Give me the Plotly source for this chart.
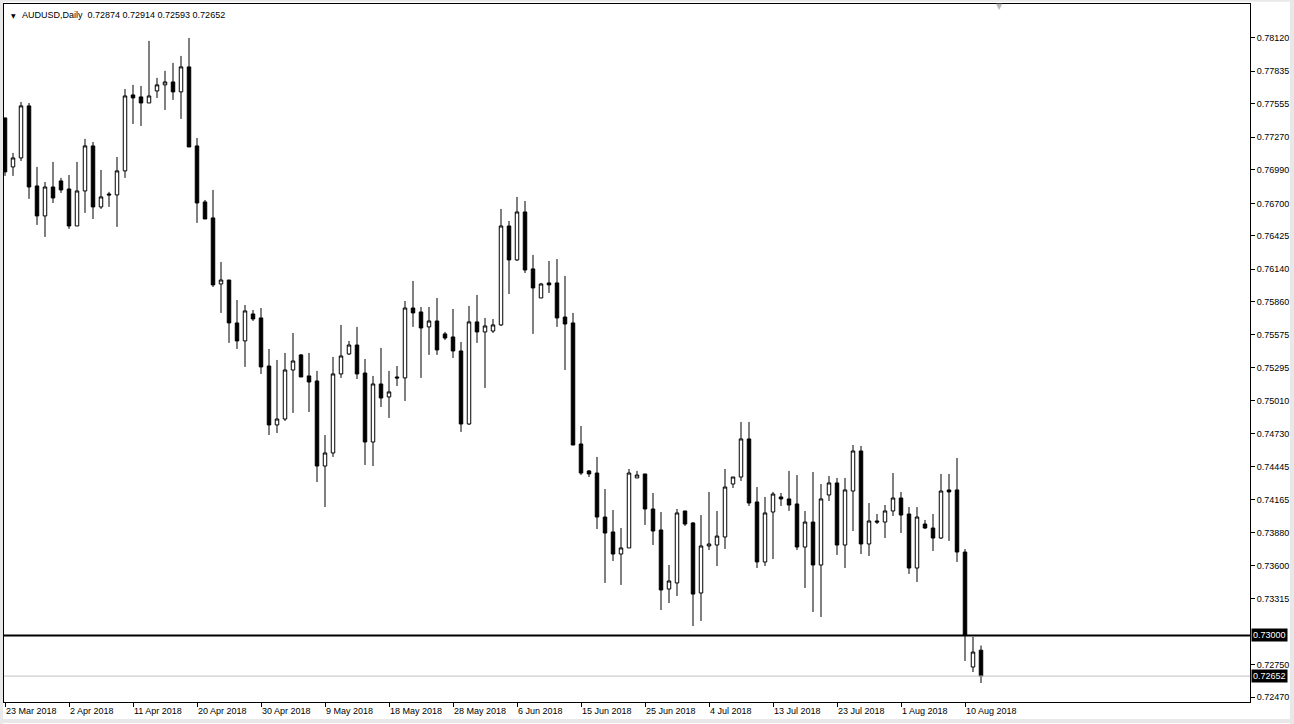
import plotly.graph_objects as go

# AUDUSD daily bars, oldest first
opens = [0.77435, 0.77015, 0.77092, 0.77538, 0.76852, 0.76595, 0.76843, 0.76895, 0.76826, 0.76509,
         0.76809, 0.77195, 0.76672, 0.76783, 0.76775, 0.76981, 0.77632, 0.77615, 0.77563, 0.77666,
         0.77718, 0.77743, 0.77658, 0.77872, 0.77195, 0.76715, 0.76578, 0.76012, 0.76046, 0.75678,
         0.75524, 0.75755, 0.75721, 0.75309, 0.74804, 0.74855, 0.75275, 0.75404, 0.75224, 0.75181,
         0.74452, 0.74564, 0.75241, 0.75412, 0.75489, 0.75249, 0.74658, 0.75155, 0.75044, 0.75215,
         0.75207, 0.75806, 0.75772, 0.75644, 0.75695, 0.75584, 0.75558, 0.75438, 0.74812, 0.75687,
         0.75601, 0.75609, 0.75661, 0.76509, 0.76218, 0.76629, 0.76141, 0.75892, 0.76021, 0.76021,
         0.75729, 0.75678, 0.74641, 0.74410, 0.74392, 0.74015, 0.73887, 0.73698, 0.73750, 0.74350,
         0.74384, 0.74084, 0.73904, 0.73398, 0.73450, 0.74067, 0.73964, 0.73364, 0.73767, 0.73775,
         0.73844, 0.74298, 0.74358, 0.74684, 0.74144, 0.73630, 0.74058, 0.74187, 0.74170, 0.74127,
         0.73758, 0.73972, 0.73604, 0.74204, 0.74307, 0.73775, 0.74238, 0.74581, 0.73784, 0.73981,
         0.73972, 0.74067, 0.74178, 0.74041, 0.73578, 0.73955, 0.73921, 0.73835, 0.74247, 0.74247,
         0.73715, 0.72730, 0.72874]
highs = [0.77435, 0.77135, 0.77572, 0.77563, 0.77015, 0.76886, 0.77058, 0.76921, 0.76946, 0.77058,
         0.77255, 0.77229, 0.76989, 0.76801, 0.77100, 0.77683, 0.77718, 0.77709, 0.78095, 0.77778,
         0.77838, 0.77906, 0.77966, 0.78120, 0.77263, 0.76732, 0.76818, 0.76201, 0.76046, 0.75875,
         0.75832, 0.75789, 0.75806, 0.75455, 0.75361, 0.75421, 0.75592, 0.75412, 0.75421, 0.75267,
         0.74718, 0.75387, 0.75661, 0.75524, 0.75644, 0.75369, 0.75224, 0.75464, 0.75267, 0.75309,
         0.75866, 0.76038, 0.75815, 0.75815, 0.75892, 0.75601, 0.75798, 0.75515, 0.75824, 0.75918,
         0.75721, 0.75712, 0.76655, 0.76552, 0.76758, 0.76723, 0.76261, 0.76021, 0.76209, 0.76226,
         0.76081, 0.75764, 0.74795, 0.74418, 0.74530, 0.74255, 0.74075, 0.73921, 0.74427, 0.74410,
         0.74384, 0.74221, 0.74058, 0.73604, 0.74084, 0.74067, 0.73972, 0.74032, 0.74230, 0.74067,
         0.74427, 0.74358, 0.74830, 0.74830, 0.74272, 0.74187, 0.74230, 0.74221, 0.74410, 0.74375,
         0.74067, 0.74401, 0.74298, 0.74367, 0.74350, 0.74350, 0.74632, 0.74624, 0.74135, 0.74041,
         0.74118, 0.74392, 0.74230, 0.74101, 0.74101, 0.73990, 0.74041, 0.74384, 0.74384, 0.74521,
         0.73741, 0.72987, 0.72914]
lows = [0.76938, 0.76938, 0.77066, 0.76741, 0.76518, 0.76415, 0.76706, 0.76792, 0.76484, 0.76509,
        0.76621, 0.76569, 0.76655, 0.76672, 0.76501, 0.76921, 0.77383, 0.77366, 0.77563, 0.77606,
        0.77503, 0.77589, 0.77426, 0.77186, 0.76535, 0.76569, 0.75986, 0.75764, 0.75507, 0.75455,
        0.75301, 0.75695, 0.75241, 0.74718, 0.74735, 0.74838, 0.74907, 0.75215, 0.74915, 0.74315,
        0.74101, 0.74530, 0.75207, 0.75404, 0.75198, 0.74461, 0.74452, 0.74958, 0.74864, 0.75138,
        0.75009, 0.75644, 0.75207, 0.75404, 0.75404, 0.75532, 0.75378, 0.74744, 0.74804, 0.75507,
        0.75121, 0.75592, 0.75652, 0.75926, 0.76209, 0.76106, 0.75584, 0.75892, 0.75935, 0.75644,
        0.75275, 0.74632, 0.74375, 0.74358, 0.73912, 0.73450, 0.73638, 0.73433, 0.73750, 0.74350,
        0.73947, 0.73775, 0.73218, 0.73278, 0.73338, 0.73938, 0.73081, 0.73124, 0.73732, 0.73595,
        0.73741, 0.74264, 0.74324, 0.74110, 0.73578, 0.73595, 0.73655, 0.74110, 0.74067, 0.73732,
        0.73407, 0.73201, 0.73158, 0.74152, 0.73690, 0.73578, 0.73895, 0.73698, 0.73681, 0.73955,
        0.73835, 0.74024, 0.73878, 0.73527, 0.73458, 0.73912, 0.73724, 0.73827, 0.73810, 0.73630,
        0.72781, 0.72687, 0.72593]
closes = [0.76972, 0.77092, 0.77538, 0.76843, 0.76595, 0.76843, 0.76749, 0.76818, 0.76509, 0.76809,
          0.77195, 0.76672, 0.76758, 0.76775, 0.76981, 0.77623, 0.77606, 0.77563, 0.77623, 0.77718,
          0.77743, 0.77658, 0.77872, 0.77186, 0.76706, 0.76569, 0.76004, 0.76046, 0.75678, 0.75524,
          0.75781, 0.75712, 0.75301, 0.74804, 0.74855, 0.75275, 0.75352, 0.75215, 0.75172, 0.74452,
          0.74564, 0.75241, 0.75395, 0.75489, 0.75241, 0.74658, 0.75155, 0.75035, 0.75087, 0.75207,
          0.75806, 0.75764, 0.75635, 0.75695, 0.75447, 0.75549, 0.75438, 0.74812, 0.75687, 0.75601,
          0.75652, 0.75661, 0.76509, 0.76218, 0.76629, 0.76132, 0.75978, 0.76012, 0.76004, 0.75721,
          0.75669, 0.74632, 0.74392, 0.74384, 0.74015, 0.73878, 0.73698, 0.73750, 0.74392, 0.74375,
          0.74084, 0.73895, 0.73390, 0.73467, 0.74050, 0.73955, 0.73355, 0.73767, 0.73784, 0.73852,
          0.74272, 0.74358, 0.74684, 0.74135, 0.73630, 0.74050, 0.74212, 0.74170, 0.74118, 0.73758,
          0.73972, 0.73604, 0.74170, 0.74307, 0.73775, 0.74247, 0.74581, 0.73784, 0.73981, 0.73972,
          0.74067, 0.74178, 0.74032, 0.73578, 0.74015, 0.73921, 0.73835, 0.74238, 0.74230, 0.73715,
          0.73004, 0.72858, 0.72652]

# one date label every 8 bars
date_labels = ["23 Mar 2018", "2 Apr 2018", "11 Apr 2018", "20 Apr 2018", "30 Apr 2018",
               "9 May 2018", "18 May 2018", "28 May 2018", "6 Jun 2018", "15 Jun 2018",
               "25 Jun 2018", "4 Jul 2018", "13 Jul 2018", "23 Jul 2018", "1 Aug 2018",
               "10 Aug 2018"]
price_ticks = [0.78120, 0.77835, 0.77555, 0.77270, 0.76990, 0.76700, 0.76425, 0.76140,
               0.75860, 0.75575, 0.75295, 0.75010, 0.74730, 0.74445, 0.74165, 0.73880,
               0.73600, 0.73315, 0.72750, 0.72470]
level = 0.73000
symbol = "AUDUSD,Daily"

bars = list(range(len(opens)))
font = "Liberation Sans, Arial, sans-serif"

fig = go.Figure(go.Candlestick(
    x=bars, open=opens, high=highs, low=lows, close=closes,
    increasing=dict(line=dict(color="black", width=1), fillcolor="white"),
    decreasing=dict(line=dict(color="black", width=1), fillcolor="black"),
    whiskerwidth=0,
    hoverinfo="none",
    showlegend=False,
))

# support level and last price line
fig.add_hline(y=level, line=dict(color="black", width=2))
fig.add_hline(y=closes[-1], line=dict(color="#c0c0c0", width=1))

# black price boxes on the right scale
for val in [level, closes[-1]]:
    fig.add_annotation(x=1, xref="paper", y=val, yref="y", xanchor="left", xshift=1,
                       text="%.5f" % val, showarrow=False, bgcolor="black", borderpad=1,
                       font=dict(color="white", size=9, family=font))

# header with symbol and last bar OHLC
header = "%s  %.5f %.5f %.5f %.5f" % (symbol, opens[-1], highs[-1], lows[-1], closes[-1])
fig.add_annotation(x=0, xref="paper", y=1, yref="paper", xanchor="left", yanchor="top",
                   xshift=16, yshift=-4, text=header, showarrow=False,
                   font=dict(color="black", size=9, family=font))
fig.add_annotation(x=0, xref="paper", y=1, yref="paper", xanchor="left", yanchor="top",
                   xshift=5, yshift=-6, text="▼", showarrow=False,
                   font=dict(color="black", size=6, family="DejaVu Sans"))
# chart shift marker
fig.add_annotation(x=0.7986, xref="paper", y=1, yref="paper", xanchor="center", yanchor="top",
                   yshift=4, text="▼", showarrow=False,
                   font=dict(color="#b8b8b8", size=8, family="DejaVu Sans"))

# thin grey window frame
for x0, x1, y0, y1 in [(-0.0032, -0.0008, -0.04, 1.01), (1.0320, 1.036, -0.04, 1.01),
                       (-0.01, 1.04, -0.03, -0.0245), (-0.01, 1.04, 1.0033, 1.0058)]:
    fig.add_shape(type="rect", xref="paper", yref="paper", x0=x0, x1=x1, y0=y0, y1=y1,
                  line=dict(width=0), fillcolor="#e8e8e8", layer="below")

fig.update_layout(
    width=1294, height=724,
    margin=dict(l=4, r=44, t=4, b=22),
    paper_bgcolor="white", plot_bgcolor="white",
    boxgap=0.38,
    font=dict(family=font, size=9, color="black"),
    xaxis=dict(
        range=[-0.125, 155.625], rangeslider=dict(visible=False),
        tickmode="array", tickvals=bars[::8], ticktext=date_labels,
        ticks="outside", ticklen=4, tickcolor="black", ticklabelposition="outside right",
        showgrid=False, zeroline=False, showline=True, linecolor="black", linewidth=1,
        mirror=True, tickfont=dict(size=9, family=font, color="black"),
    ),
    yaxis=dict(
        range=[0.72430, 0.78411], side="right",
        tickmode="array", tickvals=price_ticks, ticktext=["%.5f" % v for v in price_ticks],
        ticks="outside", ticklen=4, tickcolor="black",
        showgrid=False, zeroline=False, showline=True, linecolor="black", linewidth=1,
        mirror=True, tickfont=dict(size=9, family=font, color="black"),
    ),
)

fig.write_html("out.html", config={"displayModeBar": False},
               post_script="document.body.style.margin='0';document.body.style.overflow='hidden';")
